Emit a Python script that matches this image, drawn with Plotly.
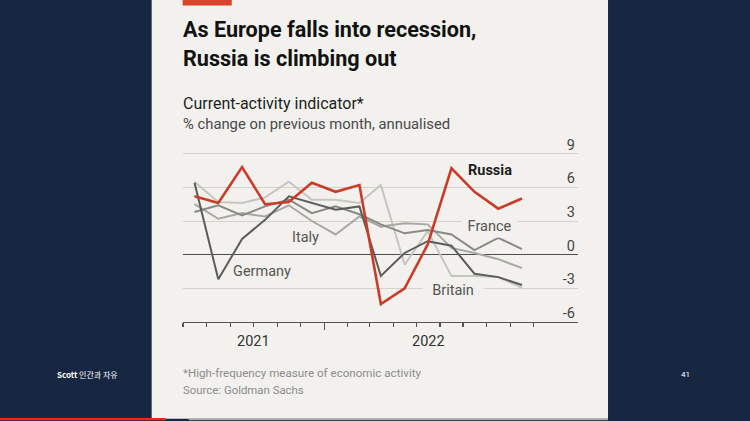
import plotly.graph_objects as go

# ---------------- data ----------------
months = ["2021-07", "2021-08", "2021-09", "2021-10", "2021-11", "2021-12",
          "2022-01", "2022-02", "2022-03", "2022-04", "2022-05", "2022-06",
          "2022-07", "2022-08", "2022-09"]
russia  = [5.2, 4.6, 7.8, 4.5, 4.7, 6.4, 5.6, 6.2, -4.4, -3.0, 0.9, 7.7, 5.6, 4.1, 5.0]
germany = [6.4, -2.2, 1.4, 3.1, 5.2, 4.6, 4.0, 4.3, -1.9, 0.15, 1.2, 0.8, -1.7, -2.0, -2.7]
france  = [3.8, 4.4, 3.5, 4.3, 4.9, 3.7, 4.3, 3.6, 2.7, 1.9, 2.2, 1.8, 0.4, 1.5, 0.5]
italy   = [4.5, 3.2, 3.7, 3.4, 4.4, 3.0, 1.8, 3.4, 2.5, 2.8, 2.7, 0.6, 0.15, -0.4, -1.2]
britain = [6.5, 4.7, 4.6, 5.1, 6.5, 4.9, 4.9, 4.6, 6.2, -0.9, 2.1, -1.9, -1.9, -2.0, -2.95]
y_ticks = [-6, -3, 0, 3, 6, 9]
year_labels = ["2021", "2022"]

# ---------------- styling ----------------
PANEL = "#f2f1ed"
BG = "#172742"
FONT = "Roboto"
W_PX, H_PX = 750, 421
Y_MIN, Y_MAX = -6, 12
PX_PER_UNIT = (322.3 - 153.3) / 15.0
L, R, B = 183.3, 578.0, 322.3
T = B - (Y_MAX - Y_MIN) * PX_PER_UNIT

def xp(px):
    return (px - L) / (R - L)

def yp(py):
    return (B - py) / (B - T)

xdates = [m + "-16" for m in months]
month_starts = [m + "-01" for m in months] + ["2022-10-01"]

fig = go.Figure()
grey_series = [
    ("Britain", britain, "#c6c6c1", 2.0),
    ("Italy", italy, "#a9a9a4", 2.0),
    ("France", france, "#8a8a85", 2.0),
    ("Germany", germany, "#5c5c58", 2.0),
]
for name, vals, col, w in grey_series:
    fig.add_trace(go.Scatter(x=xdates, y=vals, mode="lines", name=name,
                             line=dict(color=col, width=w), hoverinfo="skip"))
fig.add_trace(go.Scatter(x=xdates, y=russia, mode="lines", name="Russia",
                         line=dict(color="#cc3b28", width=2.6), hoverinfo="skip"))

shapes = [
    # white panel
    dict(type="rect", xref="paper", yref="paper", x0=xp(152), x1=xp(608),
         y0=yp(419.5), y1=yp(-2), fillcolor=PANEL, line=dict(width=0), layer="below"),
    # red tag
    dict(type="rect", xref="paper", yref="paper", x0=xp(183), x1=xp(232),
         y0=yp(4.5), y1=yp(-2), fillcolor="#d9432a", line=dict(width=0), layer="below"),
    # slide progress bars
    dict(type="rect", xref="paper", yref="paper", x0=xp(0), x1=xp(166),
         y0=yp(421), y1=yp(418.8), fillcolor="#ff1f1f", line=dict(width=0), layer="below"),
    dict(type="rect", xref="paper", yref="paper", x0=xp(189), x1=xp(608),
         y0=yp(421), y1=yp(419.2), fillcolor="#a9a9a9", line=dict(width=0), layer="below"),
]

ann = []
def add_text(text, px, py, size, color, anchor="left", bold=False, bg=None, family=FONT, pad=0):
    a = dict(text=("<b>%s</b>" % text) if bold else text, xref="paper", yref="paper",
             x=xp(px), y=yp(py), xanchor=anchor, yanchor="middle", showarrow=False,
             font=dict(family=family, size=size, color=color), borderpad=pad)
    if bg:
        a["bgcolor"] = bg
    ann.append(a)

add_text("As Europe falls into recession,", 182, 29, 21.6, "#121212", bold=True)
add_text("Russia is climbing out", 182, 58, 21.6, "#121212", bold=True)
add_text("Current-activity indicator*", 182, 102.5, 16, "#1e1e1e")
add_text("% change on previous month, annualised", 182, 124, 14.8, "#4a4a4a")

add_text("Russia", 467, 170.5, 14.5, "#1e1e1e", bold=True)
add_text("&nbsp;France&nbsp;", 461, 226, 14.5, "#555555", bg=PANEL, pad=2)
add_text("Italy", 291, 237.5, 14.5, "#555555")
add_text("Germany", 232, 271.5, 14.5, "#555555")
add_text("&nbsp;&nbsp;Britain&nbsp;&nbsp;", 422, 290.5, 14.5, "#555555", bg=PANEL, pad=2)

add_text("*High-frequency measure of economic activity", 182, 373, 11.6, "#8c8c8c")
add_text("Source: Goldman Sachs", 182, 391, 11.4, "#8c8c8c")

add_text("<b>Scott</b> 인간과 자유", 88, 375.5, 8, "#ffffff", anchor="center",
         family="Noto Sans CJK KR")
add_text("41", 685, 375.5, 8, "#ffffff", anchor="center")

# year labels centred under each year's span of the axis
ann.append(dict(text=year_labels[0], xref="x", yref="paper", x="2021-10-01", y=yp(342),
                xanchor="center", yanchor="middle", showarrow=False,
                font=dict(family=FONT, size=14.5, color="#333333")))
ann.append(dict(text=year_labels[1], xref="x", yref="paper", x="2022-05-17", y=yp(342),
                xanchor="center", yanchor="middle", showarrow=False,
                font=dict(family=FONT, size=14.5, color="#333333")))

fig.update_layout(
    width=W_PX, height=H_PX,
    margin=dict(l=L, r=W_PX - R, t=T, b=H_PX - B, pad=0),
    paper_bgcolor=BG, plot_bgcolor="rgba(0,0,0,0)",
    showlegend=False, shapes=shapes, annotations=ann,
    xaxis=dict(type="date", range=["2021-07-01", "2022-11-28"],
               tickmode="array", tickvals=["2022-01-01"], ticks="outside",
               ticklen=7, tickwidth=1.2, tickcolor="#555555", showticklabels=False,
               showgrid=False, zeroline=False, showline=True, linecolor="#555555",
               linewidth=1.2, fixedrange=True,
               minor=dict(tickmode="array", tickvals=month_starts, ticks="outside",
                          ticklen=4, tickwidth=1.2, tickcolor="#555555", showgrid=False)),
    yaxis=dict(range=[Y_MIN, Y_MAX], tickmode="array", tickvals=y_ticks,
               ticktext=[str(v) for v in y_ticks], side="right",
               ticklabelposition="inside top", showgrid=True, gridcolor="#d3d2cd",
               gridwidth=1, zeroline=True, zerolinecolor="#4e4e4e", zerolinewidth=1.6,
               showline=False, ticks="", ticklabelstandoff=0, ticklabelshift=1,
               tickfont=dict(family=FONT, size=14.5, color="#444444"), fixedrange=True),
)

fig.write_html(
    "out.html",
    config={"staticPlot": True},
    post_script="document.body.style.margin='0';document.body.style.padding='0';"
                "document.body.style.background='%s';"
                "document.documentElement.style.overflow='hidden';" % BG,
)
